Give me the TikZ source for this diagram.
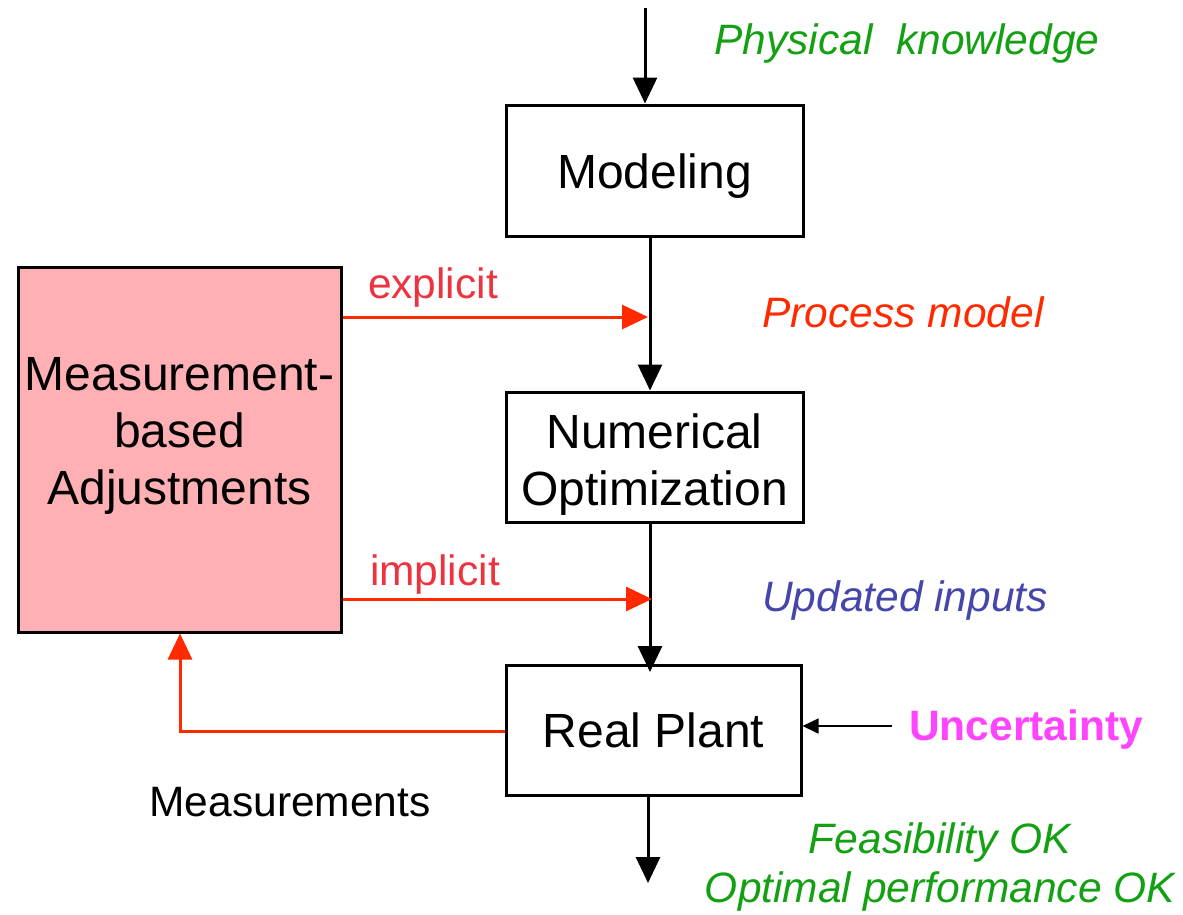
\documentclass[tikz,border=0pt]{standalone}
\usepackage{fontspec}
\setmainfont{Liberation Sans}
\usetikzlibrary{arrows.meta}
\definecolor{kgreen}{HTML}{13A013}
\definecolor{kred}{HTML}{FF2A00}
\definecolor{kredtext}{HTML}{EE3340}
\definecolor{kblue}{HTML}{4545AA}
\definecolor{kmagenta}{HTML}{FF44FF}
\definecolor{kpink}{HTML}{FFB0B4}
\tikzset{
  block/.style={draw=black, line width=3pt, align=center},
  big/.style={font=\fontsize{48}{57}\selectfont, align=center},
  flow/.style={line width=3pt, -{Triangle[length=26pt,width=24pt]}},
  redflow/.style={flow, draw=kred, -{Triangle[length=26pt,width=24pt,fill=kred]}, color=kred},
  small/.style={font=\fontsize{42.5}{50}\selectfont},
  note/.style={font=\fontsize{42.5}{50}\selectfont\itshape, align=center},
}
\begin{document}
\begin{tikzpicture}[x=1pt,y=-1pt]
\useasboundingbox (0,0) rectangle (1183,914);

% blocks
\node[block, minimum width=297pt, minimum height=131pt] (model) at (654.5,170.5) {};
\node[big] (modeltext) at (654.5,176) {Modeling};
\node[block, minimum width=297pt, minimum height=130pt] (opt) at (654.5,457) {};
\node[big] (opttext) at (654.5,465) {Numerical\\Optimization};
\node[block, big, minimum width=295pt, minimum height=130pt] (plant) at (653.5,730) {Real Plant};
\node[block, fill=kpink, minimum width=323pt, minimum height=365pt] (adj) at (179.5,449.5) {};
\node[big] (adjtext) at (179.5,436) {Measurement-\\based\\Adjustments};

% free ends
\coordinate (top) at (645,8);
\coordinate (bottom) at (648,883);
\coordinate (expl) at (648,317);
\coordinate (impl) at (652,599);
\coordinate (corner) at (180,731);
\coordinate (unc) at (892,726);

% main flow
\draw[flow] (top) -- (top |- model.north);
\draw[flow] (model.south -| 650,0) -- (opt.north -| 650,0);
\draw[flow] (opt.south -| 650,0) -- (650,672);
\draw[flow] (plant.south -| bottom) -- (bottom);

% adjustments
\draw[redflow] (adj.east |- expl) -- (expl);
\draw[redflow] (adj.east |- impl) -- (impl);
\draw[redflow] (plant.west |- corner) -- (corner) -- (corner |- adj.south);

% disturbance
\draw[line width=1.6pt, -{Triangle[length=16pt,width=15pt]}] (unc) -- (plant.east |- unc);

% labels
\node[note, text=kgreen] (phys) at (907,44) {Physical\ \ knowledge};
\node[note, text=kred] (pm) at (903,312) {Process model};
\node[note, text=kblue] (ui) at (905,600) {Updated inputs};
\node[small, font=\fontsize{42.5}{50}\selectfont\bfseries, text=kmagenta] (uncl) at (1026,729) {Uncertainty};
\node[note, text=kgreen] (ok1) at (940,842) {Feasibility OK};
\node[note, text=kgreen] (ok2) at (940,891) {Optimal performance OK};
\node[small] (meas) at (290,802) {Measurements};
\node[small, text=kredtext] (ex) at (433,288) {explicit};
\node[small, text=kredtext] (im) at (435,574) {implicit};
\end{tikzpicture}
\end{document}
